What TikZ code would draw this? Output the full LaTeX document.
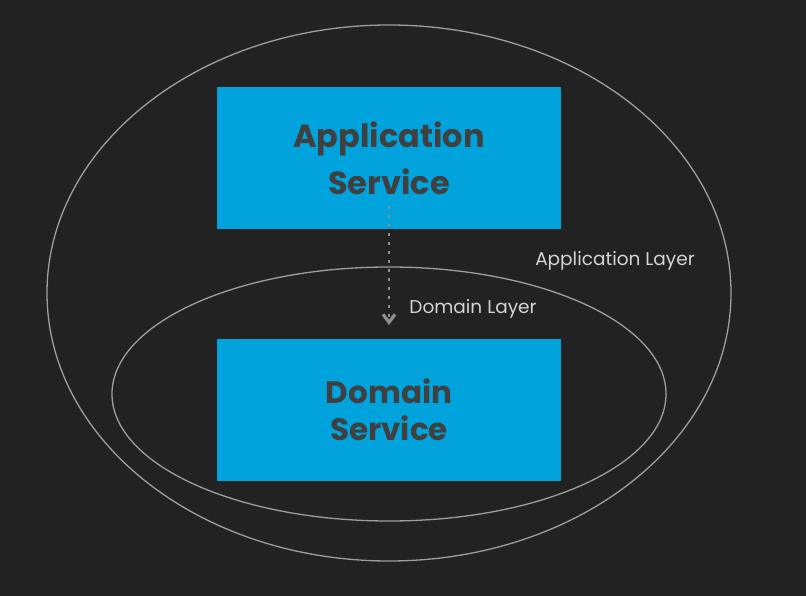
\documentclass[tikz,border=0pt]{standalone}
\usepackage{fontspec}
\setmainfont{Poppins}
\usetikzlibrary{arrows.meta}
\definecolor{bg}{HTML}{222222}
\definecolor{boxblue}{HTML}{00A3DC}
\definecolor{boxtext}{HTML}{404040}
\definecolor{ringgray}{HTML}{9E9E9E}
\definecolor{labelgray}{HTML}{D4D4D4}
\definecolor{arrowgray}{HTML}{8C9090}
\tikzset{
  svcbox/.style={fill=boxblue, draw=none, minimum width=344pt, minimum height=142pt, inner sep=0pt,
    align=center, text=boxtext},
  appfont/.style={font=\fontsize{32}{47}\selectfont\bfseries},
  domfont/.style={font=\fontsize{31}{37}\selectfont\bfseries},
  ring/.style={draw=ringgray, line width=1.3pt},
  layerlabel/.style={text=labelgray, font=\fontsize{18.5}{22}\selectfont, inner sep=0pt},
}
\begin{document}
\begin{tikzpicture}[x=1pt,y=-1pt]
\fill[bg] (0,0) rectangle (806,596);
\useasboundingbox (0,0) rectangle (806,596);
\draw[ring] (389,293) ellipse [x radius=342, y radius=268];
\draw[ring] (389,394) ellipse [x radius=277, y radius=127];
\node[svcbox, appfont] (app) at (389,158) {Application\\Service};
\node[svcbox, domfont] (dom) at (389,410) {Domain\\Service};
\coordinate (arrowend) at (389,325);
\draw[arrowgray, line width=2.5pt, dash pattern=on 2.5pt off 6.5pt, -{Straight Barb[length=8pt,width=12pt,line width=3.2pt]}]
  ([yshift=23pt]app.south) -- (arrowend);
\node[layerlabel] (applayer) at (615,261) {Application Layer};
\node[layerlabel] (domlayer) at (473,309) {Domain Layer};
\end{tikzpicture}
\end{document}
